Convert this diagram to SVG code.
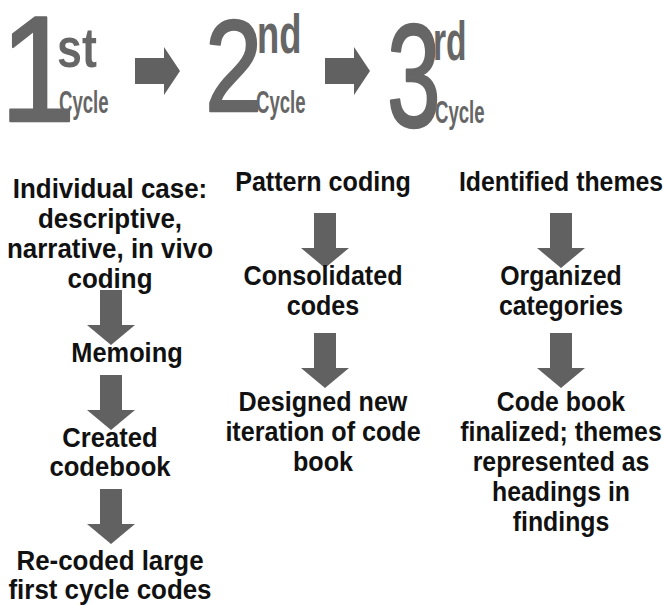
<svg xmlns="http://www.w3.org/2000/svg" width="663" height="605" viewBox="0 0 663 605">
<style>
.hd{font-family:"Liberation Sans",Arial,sans-serif;fill:#666;}
.dg{font-weight:normal;stroke:#666;stroke-width:2.5;stroke-linejoin:round;}
.sup{font-size:56px;font-weight:bold;}
.cy{font-size:31px;font-weight:bold;}
.tx{font-family:"Liberation Sans",Arial,sans-serif;font-weight:bold;font-size:27px;fill:#111;text-anchor:middle;}
.ar{fill:#616161;}
</style>
<defs>
<path id="down" d="M-11,0 H11 V35 H24 L0,55 L-24,35 H-11 Z"/>
<path id="right" d="M0,11 H29 V0 L45,24 L29,48 V37 H0 Z"/>
</defs>
<rect width="663" height="605" fill="#fff"/>
<g id="header">
<g id="cycle1">
<text class="hd dg" transform="translate(0,121) scale(0.9,1)" font-size="151">1</text>
<text class="hd sup" transform="translate(57,67) scale(0.8,1)">st</text>
<text class="hd cy" transform="translate(59,113) scale(0.6,1)">Cycle</text>
</g>
<g id="cycle2">
<text class="hd dg" transform="translate(205,111) scale(0.8,1)" font-size="129">2</text>
<text class="hd sup" transform="translate(257,53) scale(0.65,1)">nd</text>
<text class="hd cy" transform="translate(256,113) scale(0.6,1)">Cycle</text>
</g>
<g id="cycle3">
<text class="hd dg" transform="translate(387,127) scale(0.66,1)" font-size="146">3</text>
<text class="hd sup" transform="translate(433,60) scale(0.6,1)">rd</text>
<text class="hd cy" transform="translate(435,123) scale(0.6,1)">Cycle</text>
</g>
</g>
<g id="connectors" class="ar">
<use href="#right" x="135" y="47"/>
<use href="#right" x="325" y="47"/>
<use href="#down" x="111" y="290"/>
<use href="#down" x="111" y="375"/>
<use href="#down" x="111" y="489"/>
<use href="#down" x="325" y="213"/>
<use href="#down" x="325" y="333"/>
<use href="#down" x="561" y="213"/>
<use href="#down" x="561" y="333"/>
</g>
<g id="n1a" transform="translate(110,0) scale(0.96,1)"><text class="tx" y="198">Individual case:</text><text class="tx" y="228">descriptive,</text><text class="tx" y="258">narrative, in vivo</text><text class="tx" y="288">coding</text></g>
<g id="n1b" transform="translate(127,0) scale(0.94,1)"><text class="tx" y="362">Memoing</text></g>
<g id="n1c" transform="translate(110,0) scale(0.95,1)"><text class="tx" y="447">Created</text><text class="tx" y="476">codebook</text></g>
<g id="n1d" transform="translate(110,0) scale(0.96,1)"><text class="tx" y="570">Re-coded large</text><text class="tx" y="599">first cycle codes</text></g>
<g id="n2a" transform="translate(323,0) scale(0.93,1)"><text class="tx" y="191">Pattern coding</text></g>
<g id="n2b" transform="translate(323,0) scale(0.93,1)"><text class="tx" y="285">Consolidated</text><text class="tx" y="315">codes</text></g>
<g id="n2c" transform="translate(323,0) scale(0.93,1)"><text class="tx" y="411">Designed new</text><text class="tx" y="441">iteration of code</text><text class="tx" y="471">book</text></g>
<g id="n3a" transform="translate(561,0) scale(0.92,1)"><text class="tx" y="191">Identified themes</text></g>
<g id="n3b" transform="translate(561,0) scale(0.92,1)"><text class="tx" y="285">Organized</text><text class="tx" y="315">categories</text></g>
<g id="n3c" transform="translate(561,0) scale(0.92,1)"><text class="tx" y="411">Code book</text><text class="tx" y="441">finalized; themes</text><text class="tx" y="471">represented as</text><text class="tx" y="501">headings in</text><text class="tx" y="531">findings</text></g>
</svg>
